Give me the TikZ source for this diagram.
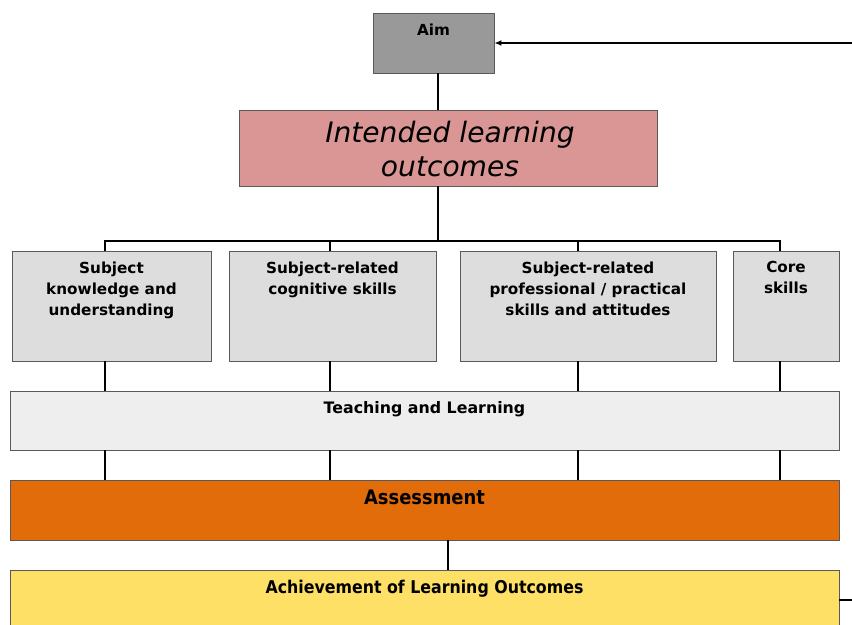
\documentclass[tikz,border=0pt]{standalone}
\usepackage{fontspec}
\setmainfont{DejaVu Sans}
\newfontfamily\condfont{DejaVu Sans Condensed}
\usetikzlibrary{arrows.meta,fit}

\definecolor{aimgray}{HTML}{999999}
\definecolor{ilopink}{HTML}{D99694}
\definecolor{boxgray}{HTML}{DDDDDD}
\definecolor{tlgray}{HTML}{EEEEEE}
\definecolor{assorange}{HTML}{E36C0A}
\definecolor{achyellow}{HTML}{FEE066}

\tikzset{
  box/.style={draw=black!65, line width=0.6pt, inner sep=0pt},
  link/.style={line width=1.6pt},
  lbl/.style={font=\bfseries\fontsize{13}{17.9}\selectfont, align=center, anchor=north}
}

\begin{document}
\begin{tikzpicture}[x=0.03cm, y=-0.03cm]
\useasboundingbox (0,0) rectangle (852,624);
\clip (0,0) rectangle (852,624);

% boxes
\node[box, fill=aimgray, fit={(373,13) (494,73)}] (aim) {};
\node[box, fill=ilopink, fit={(239,110) (657,186)}] (ilo) {};
\node[box, fill=boxgray, fit={(12,251) (211,361)}] (s1) {};
\node[box, fill=boxgray, fit={(229,251) (436,361)}] (s2) {};
\node[box, fill=boxgray, fit={(460,251) (716,361)}] (s3) {};
\node[box, fill=boxgray, fit={(733,251) (839,361)}] (s4) {};
\node[box, fill=tlgray, fit={(10,391) (839,450)}] (tl) {};
\node[box, fill=assorange, fit={(10,480) (839,540)}] (ass) {};
\node[box, fill=achyellow, fit={(10,570) (839,630)}] (ach) {};

% texts
\node[lbl] (aimtxt) at (433.5,20) {Aim};
\node[font=\itshape\fontsize{24}{29}\selectfont, align=center] (ilotxt) at (450,149)
{Intended learning\\outcomes};
\node[lbl] (s1txt) at (111.5,257.5) {Subject\\knowledge and\\understanding};
\node[lbl] (s2txt) at (332.5,257.5) {Subject-related\\cognitive skills};
\node[lbl] (s3txt) at (588,257.5) {Subject-related\\professional / practical\\skills and attitudes};
\node[lbl] (s4txt) at (786,257.5) {Core\\skills};
\node[lbl, font=\bfseries\fontsize{13.5}{16}\selectfont] (tltxt) at (424.5,397)
{Teaching and Learning};
\node[lbl, font=\condfont\bfseries\fontsize{17}{20}\selectfont] (asstxt) at (424.5,486)
{Assessment};
\node[lbl, font=\condfont\bfseries\fontsize{15}{18}\selectfont] (achtxt) at (424.5,576.5)
{Achievement of Learning Outcomes};

% connectors
\coordinate (top) at (438,241);
\coordinate (d1) at (105,241);
\coordinate (d2) at (330,241);
\coordinate (d3) at (578,241);
\coordinate (d4) at (780,241);
\coordinate (mid) at (448,540);

\draw[link] (aim.south -| top) -- (ilo.north -| top);
\draw[link] (ilo.south -| top) -- (top);
\draw[link] (s1.north -| d1) -- (d1) -- (d4) -- (s4.north -| d4);
\foreach \d/\b in {d2/s2,d3/s3}
  \draw[link] (\d) -- (\b.north -| \d);
\foreach \d/\b in {d1/s1,d2/s2,d3/s3,d4/s4} {
  \draw[link] (\b.south -| \d) -- (tl.north -| \d);
  \draw[link] (tl.south -| \d) -- (ass.north -| \d);
}
\draw[link] (mid) -- (ach.north -| mid);
\draw[link, -{Latex[length=6pt,width=5pt]}] (ach.east) -- ++(40,0) |- (aim.east);
\end{tikzpicture}
\end{document}
